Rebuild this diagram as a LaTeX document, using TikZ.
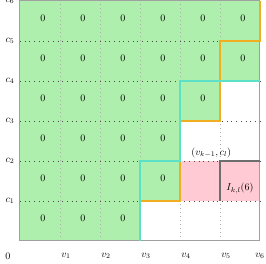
\documentclass[tikz,border=0pt]{standalone}
\usepackage{amsmath}
\usepackage{tikz}
\definecolor{CellGreen}{HTML}{AEEFAE}
\definecolor{CellPink}{HTML}{FFCAD4}
\definecolor{StairOrange}{HTML}{F2AE22}
\definecolor{StairCyan}{HTML}{5CE0C8}
\definecolor{FrameGray}{HTML}{A0A0A0}
\definecolor{BoxGray}{HTML}{6E6E6E}

\begin{document}
\begin{tikzpicture}[x=40pt, y=40pt]
        \useasboundingbox (-0.5,-0.575) rectangle (6.15,6.025);
        % filled cells
        \fill[CellGreen] (0,0) -- (3,0) -- (3,1) -- (4,1) -- (4,3) -- (5,3)
          -- (5,4) -- (6,4) -- (6,6) -- (0,6) -- cycle;
        \fill[CellPink] (4,1) rectangle (6,2);
        % grid
        \foreach \i in {1,...,5} {
          \draw[line width=0.8pt,gray!65,dash pattern=on 1.1pt off 2.9pt] (\i,0) -- (\i,6);
          \draw[line width=0.7pt,black!70,dash pattern=on 0.7pt off 4pt] (0,\i) -- (6,\i);
        }
        \draw[line width=1pt,FrameGray] (0,0) rectangle (6,6);
        % staircases
        \draw[line width=1.3pt,StairOrange] (6,6) -- (6,5) -- (5,5) -- (5,3)
          -- (4,3) -- (4,1) -- (3,1) -- (3,0);
        \draw[line width=1.3pt,StairCyan] (6,4) -- (4,4) -- (4,2) -- (3,2)
          -- (3,0);
        \draw[line width=1.1pt,BoxGray] (5,1) -- (5,2) -- (6,2);
        % zeros
        \foreach \x/\ylo in {1/1,2/1,3/1,4/2,5/4,6/5}
          \foreach \y in {\ylo,...,6}
            \node (z\x\y) at (\x-0.43,\y-0.42) {$0$};
        % axis labels
        \node (orig) at (-0.3,-0.375) {$0$};
        \foreach \i in {1,...,5}
          \node (v\i) at (\i+0.15,-0.375) {$v_{\i}$};
        \node (v6) at (6.0,-0.375) {$v_{6}$};
        \foreach \j in {1,...,6}
          \node (c\j) at (-0.25,\j) {$c_{\j}$};
        \node (corner) at (4.78,2.2) {$(v_{k-1},c_l)$};
        \node (ikl) at (5.5,1.32) {$I_{k,l}(6)$};
      \end{tikzpicture}
\end{document}
